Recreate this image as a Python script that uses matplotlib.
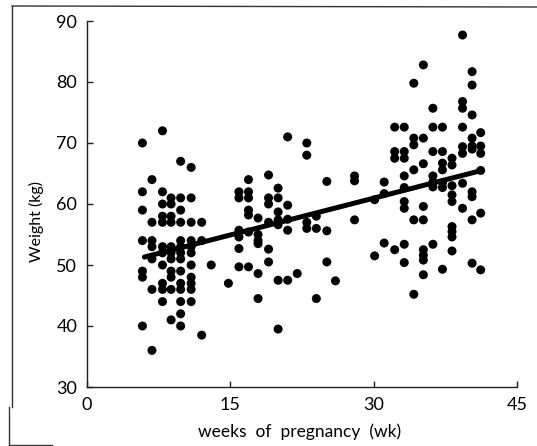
import matplotlib
matplotlib.use("Agg")
import matplotlib.pyplot as plt
from matplotlib.lines import Line2D

plt.rcParams['font.family'] = ['Lato', 'DejaVu Sans']

# ---- data (week, weight in kg) ----
early_weeks = [5.8]*7 + [6.8]*7 + [7.9]*11 + [8.8]*11 + [9.8]*14 + [10.9]*11 + [12.0]*3 + [13.0]
early_kg = [70, 62, 59, 54, 49, 48, 40,
            64, 57, 54, 53, 51, 46, 36,
            72, 62, 60, 58, 57, 53, 52, 50, 47, 46, 44,
            61, 60, 58, 57, 53, 52, 51, 49, 48, 46, 41,
            67, 61, 59, 57, 54, 53, 52, 51, 49, 47, 46, 44, 42, 40,
            66, 61, 57, 54, 53, 52, 50, 48, 47, 46, 44,
            57, 54, 38.5,
            50]

mid_weeks = ([14.8] + [15.9]*6 + [16.9]*7 + [17.9]*6 + [19.0]*6 + [20.0]*7 +
             [21.0]*5 + [22.0] + [23.0]*4 + [24.0]*3 + [25.1]*3 + [26.0] + [28.0]*3)
mid_kg = [47,
          62, 61, 55.7, 54.6, 52.7, 49.7,
          64, 62, 61, 59, 58.2, 55.4, 49.7,
          57.7, 55, 54, 53.5, 48.6, 44.5,
          64.75, 61, 60, 57, 52.6, 50.5,
          62.6, 61, 58.7, 57.4, 56.6, 47.5, 39.5,
          71, 59.8, 57.5, 55.7, 47.5,
          48.6,
          70, 68, 57, 56,
          58, 56, 44.5,
          63.7, 55.6, 50.5,
          47.4,
          64.6, 63.8, 57.4]

late_weeks = ([30.1]*2 + [31.1]*3 + [32.2]*4 + [33.2]*9 + [34.2]*6 + [35.2]*9 +
              [36.2]*7 + [37.2]*7 + [38.2]*9 + [39.3]*8 + [40.3]*10 + [41.2]*6)
late_kg = [60.7, 51.5,
           63.6, 61.7, 53.6,
           72.6, 68.6, 67.5, 52.5,
           72.6, 68.6, 67.5, 64.6, 62.7, 60.4, 59.3, 53.4, 50.4,
           79.8, 70.8, 69.7, 65.6, 57.4, 45.2,
           82.8, 70.8, 66.6, 59.6, 57.4, 52.5, 51.6, 50.8, 48.4,
           75.7, 72.6, 68.6, 64.6, 63.6, 62.8, 53.4,
           72.6, 68.6, 66.7, 65.6, 63.5, 62.7, 49.3,
           67.5, 66.4, 63, 61.5, 60.4, 56.3, 55.5, 54.6, 52.3,
           87.7, 76.8, 75.7, 72.6, 69.4, 68.3, 63.4, 59.3,
           81.7, 79.5, 74.6, 70.8, 69.5, 69, 62, 61.2, 57.4, 50.3,
           71.7, 69.5, 68.3, 65.5, 58.5, 49.2]

fit_weeks = [6.0, 41.3]
fit_kg = [51.3, 65.5]

x_ticks = [0, 15, 30, 45]
y_ticks = [30, 40, 50, 60, 70, 80, 90]

# ---- figure ----
W, H = 537, 446
fig = plt.figure(figsize=(W/100, H/100), dpi=100)
ax = fig.add_axes([87/W, 1-387/H, (517-87)/W, (387-21)/H])

for xs, ys in [(early_weeks, early_kg), (mid_weeks, mid_kg), (late_weeks, late_kg)]:
    ax.scatter(xs, ys, s=42, color="black", edgecolors="none", zorder=3)
ax.plot(fit_weeks, fit_kg, color="black", lw=3.6, solid_capstyle="round", zorder=4)

ax.set_xlim(0, 45)
ax.set_ylim(30, 90)
ax.set_xticks(x_ticks)
ax.set_yticks(y_ticks)
for s in ["top", "right"]:
    ax.spines[s].set_visible(False)
for s in ["left", "bottom"]:
    ax.spines[s].set_linewidth(1.0)
    ax.spines[s].set_color("#222222")
ax.tick_params(direction="in", length=4, width=1.0, color="#222222",
               labelsize=13, pad=7)
ax.set_xlabel("weeks  of  pregnancy  (wk)", fontsize=12.5)
ax.xaxis.set_label_coords((300-87)/(517-87), -(423-387)/(387-21))
ax.set_ylabel("Weight (kg)", fontsize=11.5)
ax.yaxis.set_label_coords(-(87-44)/(517-87), (387-222)/(387-21))

# scanned frame lines
fig.add_artist(Line2D([12/W, 1.0], [1-6/H, 1-7/H], transform=fig.transFigure,
                      color="#333333", lw=1))
fig.add_artist(Line2D([12/W, 12/W], [1-6/H, 1-407/H], transform=fig.transFigure,
                      color="#333333", lw=1))
fig.add_artist(Line2D([9/W, 9/W], [1-407/H, 1-445/H], transform=fig.transFigure,
                      color="#333333", lw=1))
fig.add_artist(Line2D([9/W, 52/W], [1-445/H, 1-445/H], transform=fig.transFigure,
                      color="#333333", lw=1))

fig.savefig("out.png", dpi=100)
